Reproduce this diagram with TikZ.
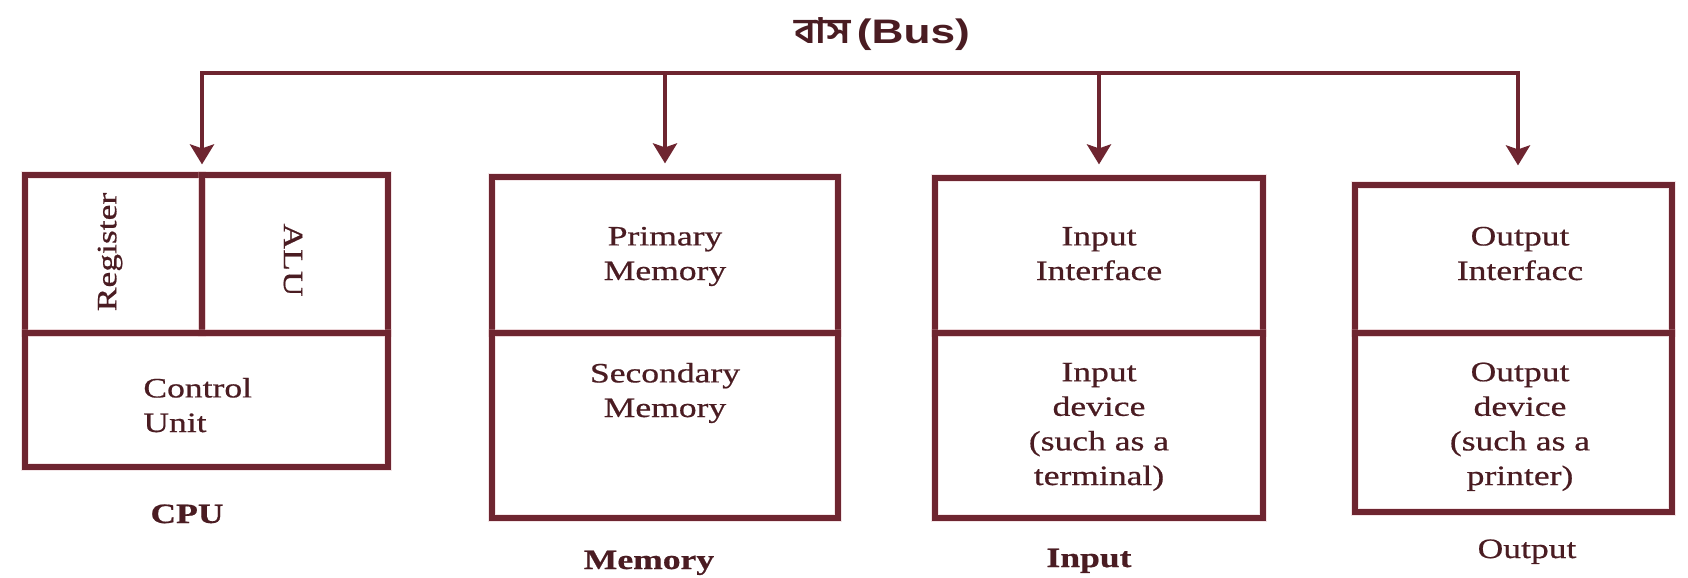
\documentclass[tikz,border=0pt]{standalone}
\usepackage{fontspec}
\setmainfont{Liberation Serif}[FakeStretch=1.27,FakeBold=0.6]
\newfontfamily\titlefont{Liberation Sans}[FakeStretch=1.3]
\newfontfamily\bnfont{Hind Siliguri}[Script=Bengali,FakeStretch=1.15]
\usetikzlibrary{arrows.meta,fit,calc}

\definecolor{ink}{HTML}{6E2530}
\definecolor{txt}{HTML}{4A1C22}
\definecolor{halo}{HTML}{D9AAB0}

\begin{document}
\begin{tikzpicture}[x=0.5pt,y=-0.5pt,
  cell/.style={draw=ink, line width=2.6pt, inner sep=0pt,
    preaction={draw=halo, line width=4.2pt, opacity=0.3}},
  busline/.style={draw=ink, line width=2pt, line join=miter},
  bustip/.tip={Stealth[length=10pt,width=12pt,inset=2pt]},
  lbl/.style={text=txt, font=\fontsize{14}{17.3}\selectfont, align=center, inner sep=0pt},
  caption/.style={text=txt, font=\fontsize{14}{17}\selectfont\bfseries, inner sep=0pt, anchor=base},
  plaincaption/.style={text=txt, font=\fontsize{14}{17}\selectfont, inner sep=0pt, anchor=base}]

\useasboundingbox[fill=white] (0,0) rectangle (1688,578);

% title
\node[text=txt, anchor=base, inner sep=0pt] (title) at (882,43)
  {{\bnfont\bfseries\fontsize{17.5}{20}\selectfont বাস} {\titlefont\bfseries\fontsize{17}{20}\selectfont (Bus)}};

% CPU
\node[cell, fit={(25,175) (202,333)}] (reg) {};
\node[cell, fit={(202,175) (388,333)}] (alu) {};
\node[cell, fit={(25,333) (388,467)}] (cu) {};
\node[lbl, rotate=90] (regt) at (110,252) {Register};
\node[lbl, rotate=-90] (alut) at (293,260) {ALU};
\node[lbl, align=left, anchor=base west] (cut) at (143,432) {Control\\Unit};
\node[caption] (cpul) at (187,523) {CPU};

% Memory
\node[cell, fit={(492,177) (838,333)}] (pm) {};
\node[cell, fit={(492,333) (838,518)}] (sm) {};
\node[lbl, anchor=base] (pmt) at (665,280) {Primary\\Memory};
\node[lbl, anchor=base] (smt) at (665,417) {Secondary\\Memory};
\node[caption] (meml) at (649,569) {Memory};

% Input
\node[cell, fit={(935,178) (1263,333)}] (ii) {};
\node[cell, fit={(935,333) (1263,518)}] (id) {};
\node[lbl, anchor=base] (iit) at (1099,280) {Input\\Interface};
\node[lbl, anchor=base] (idt) at (1099,485) {Input\\device\\(such as a\\terminal)};
\node[caption] (inl) at (1089,567) {Input};

% Output
\node[cell, fit={(1355,185) (1672,333)}] (oi) {};
\node[cell, fit={(1355,333) (1672,512)}] (od) {};
\node[lbl, anchor=base] (oit) at (1520,280) {Output\\Interfacc};
\node[lbl, anchor=base] (odt) at (1520,485) {Output\\device\\(such as a\\printer)};
\node[plaincaption] (outl) at (1527,558) {Output};

% bus with its four drops
\coordinate (d1) at (202,73);
\coordinate (d2) at (665,73);
\coordinate (d3) at (1099,73);
\coordinate (d4) at (1518,73);
\draw[busline, bustip-bustip, shorten <=4pt, shorten >=8.5pt]
  (d1 |- reg.north) -- (d1) -- (d4) -- (d4 |- oi.north);
\draw[busline, -bustip, shorten >=5.5pt] (d2) -- (d2 |- pm.north);
\draw[busline, -bustip, shorten >=5.5pt] (d3) -- (d3 |- ii.north);
\end{tikzpicture}
\end{document}
